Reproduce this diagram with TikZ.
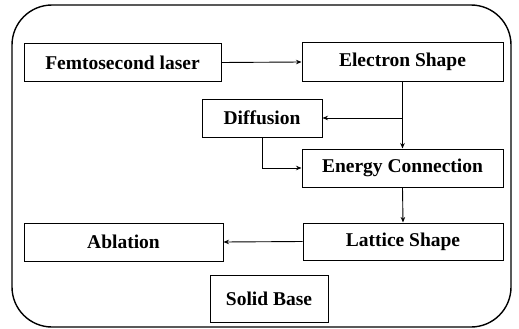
\documentclass[tikz,border=0pt]{standalone}
\usepackage{fontspec}
\setmainfont{Liberation Serif}
\usetikzlibrary{arrows.meta}
\begin{document}
\begin{tikzpicture}[x=1pt,y=-1pt,
  box/.style={draw,line width=1pt,rectangle,inner sep=0pt,font=\fontsize{19.5}{21}\selectfont\bfseries},
  conn/.style={line width=0.9pt,-{Stealth[length=5.5pt,width=4.5pt]}},
  seg/.style={line width=0.9pt}]
\useasboundingbox (0,0) rectangle (519,329);
\draw[line width=1.4pt,rounded corners=40pt] (12,5) rectangle (511,327);
\node[box,minimum width=197pt,minimum height=38pt] (femto) at (122.5,62.5) {Femtosecond laser};
\node[box,minimum width=201pt,minimum height=38pt] (elec) at (402.5,62) {Electron Shape};
\node[box,minimum width=120pt,minimum height=38pt] (diff) at (262,118) {Diffusion};
\node[box,minimum width=201pt,minimum height=38pt] (energy) at (402.5,168) {Energy Connection};
\node[box,minimum width=200pt,minimum height=37pt] (latt) at (403,241.5) {Lattice Shape};
\node[box,minimum width=199pt,minimum height=38pt] (abl) at (123.5,242) {Ablation};
\node[box,minimum width=118pt,minimum height=47pt] (solid) at (269,298.5) {Solid Base};
\coordinate (br) at (elec.south |- diff.east);
\draw[conn] (femto.east) -- (elec.west);
\draw[conn] (elec.south) -- (energy.north);
\draw[conn] (br) -- (diff.east);
\draw[conn] (diff.south) |- (energy.west);
\draw[conn] (energy.south) -- (latt.north);
\draw[conn] (latt.west) -- (abl.east);
\end{tikzpicture}
\end{document}
